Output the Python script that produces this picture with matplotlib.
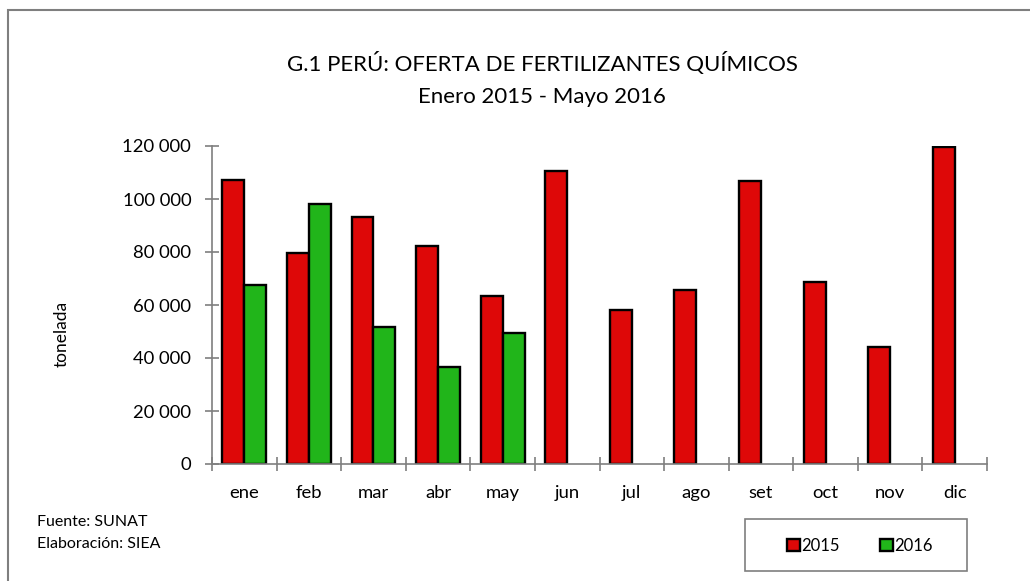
import matplotlib
matplotlib.use('Agg')
import matplotlib.pyplot as plt
import numpy as np
from matplotlib.patches import Rectangle
from matplotlib.ticker import FuncFormatter, FixedLocator

plt.rcParams['font.family'] = ['Lato', 'DejaVu Sans']

meses = ['ene', 'feb', 'mar', 'abr', 'may', 'jun', 'jul', 'ago', 'set', 'oct', 'nov', 'dic']
v2015 = [107200, 79700, 93200, 82300, 63400, 110600, 58200, 65800, 106700, 68800, 44000, 119600]
v2016 = [67700, 98200, 51700, 36700, 49600]

rojo = '#DE0808'
verde = '#21B51A'
gris = '#7f7f7f'

W, H = 1030, 581
fig = plt.figure(figsize=(W / 100, H / 100), dpi=100)

# marco exterior
fig.patches.append(Rectangle((8 / W, -0.05), 1.2, 1 - 10 / H + 0.05, transform=fig.transFigure,
                             fill=False, edgecolor=gris, linewidth=1.5))

ax = fig.add_axes([212 / W, 1 - 464 / H, 775 / W, 318 / H])

x = np.arange(len(meses))
w = 0.34
b1 = ax.bar(x - w / 2, v2015, w, color=rojo, edgecolor='black', linewidth=1.7, label='2015')
b2 = ax.bar(x[:len(v2016)] + w / 2, v2016, w, color=verde, edgecolor='black', linewidth=1.7, label='2016')

ax.set_xlim(-0.5, len(meses) - 0.5)
ax.set_ylim(0, 120000)
ax.set_yticks(np.arange(0, 120001, 20000))
ax.yaxis.set_major_formatter(FuncFormatter(lambda v, p: f'{int(v):,}'.replace(',', ' ')))
ax.set_xticks(x)
ax.set_xticklabels(meses)
ax.xaxis.set_minor_locator(FixedLocator(np.arange(-0.5, len(meses), 1)))

for s in ['top', 'right']:
    ax.spines[s].set_visible(False)
for s in ['left', 'bottom']:
    ax.spines[s].set_color(gris)
    ax.spines[s].set_linewidth(1.2)

ax.tick_params(axis='x', which='major', length=0, pad=15, labelsize=13.3)
ax.tick_params(axis='x', which='minor', direction='inout', length=10, color=gris, width=1.2)
ax.tick_params(axis='y', direction='inout', length=10, color=gris, width=1.2, pad=10, labelsize=13.3)

fig.text(62 / W, 1 - 334 / H, 'tonelada', rotation=90, ha='center', va='center', fontsize=12.5)

fig.text(542 / W, 1 - 63 / H, 'G.1 PERÚ: OFERTA DE FERTILIZANTES QUÍMICOS', ha='center', va='center', fontsize=16)
fig.text(542 / W, 1 - 97 / H, 'Enero 2015 - Mayo 2016', ha='center', va='center', fontsize=16)

fig.text(37 / W, 1 - 522 / H, 'Fuente: SUNAT', ha='left', va='center', fontsize=11.5)
fig.text(37 / W, 1 - 544 / H, 'Elaboración: SIEA', ha='left', va='center', fontsize=11.5)

# caja de leyenda
fig.patches.append(Rectangle((745 / W, 1 - 571 / H), 222 / W, 52 / H, transform=fig.transFigure,
                             fill=False, edgecolor=gris, linewidth=1.2))
fig.legend(handles=[b1, b2], labels=['2015', '2016'], ncol=2, frameon=False,
           loc='center', bbox_to_anchor=(860 / W, 1 - 546 / H), fontsize=12,
           handlelength=0.75, handleheight=0.75, handletextpad=0.1, columnspacing=2.4)

fig.savefig('out.png', dpi=100)
